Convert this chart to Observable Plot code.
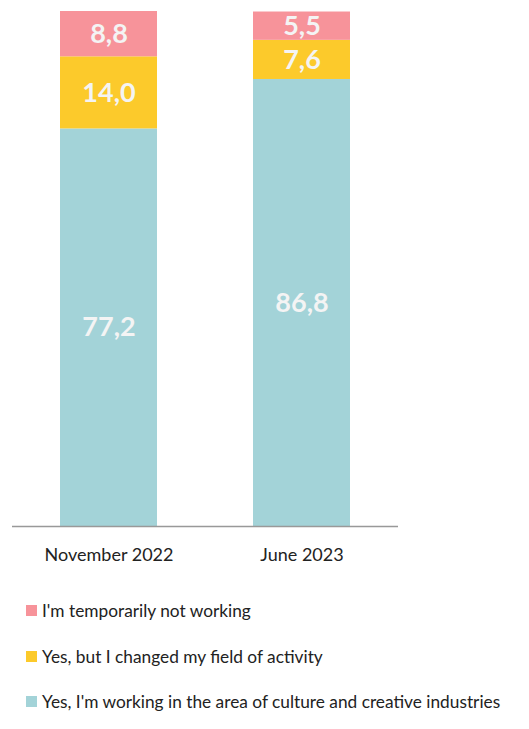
<!DOCTYPE html>
<html>
<head>
<meta charset="utf-8">
<script src="https://cdn.jsdelivr.net/npm/d3@7"></script>
<script src="https://cdn.jsdelivr.net/npm/@observablehq/plot@0.6"></script>
<style>
  body { margin: 0; background: #fff; font-family: Lato, "Open Sans", sans-serif; }
  #chart svg { display: block; }
  #legend { margin-top: 13px; }
  .item { display: flex; align-items: center; height: 45.5px; padding-left: 26px; font-size: 17.3px; color: #222; }
  .sw { width: 11px; height: 11px; margin-right: 5px; flex: none; }
</style>
</head>
<body>
<div id="chart"></div>
<div id="legend"></div>
<script>
const periods = ["November 2022", "June 2023"];
const statuses = [
  "Yes, I'm working in the area of culture and creative industries",
  "Yes, but I changed my field of activity",
  "I'm temporarily not working"
];
const colors = ["#a3d3d8", "#fcca2b", "#f7939a"];
const working = [77.2, 86.8];
const changed = [14.0, 7.6];
const notWorking = [8.8, 5.5];

const series = [working, changed, notWorking];
const data = [];
periods.forEach((p, i) => {
  series.forEach((s, j) => data.push({period: p, status: statuses[j], value: s[i]}));
});

const fmt = v => v.toFixed(1).replace(".", ",");

const chart = Plot.plot({
  width: 529,
  height: 575,
  marginLeft: 12,
  marginRight: 131,
  marginTop: 11,
  marginBottom: 49,
  style: {fontFamily: "Lato, 'Open Sans', sans-serif", background: "#fff"},
  x: {domain: periods, paddingInner: 0.5, paddingOuter: 0.25, label: null, tickSize: 0, tickPadding: 22},
  y: {domain: [0, 100], axis: null},
  color: {domain: statuses, range: colors},
  marks: [
    Plot.barY(data, Plot.stackY({x: "period", y: "value", fill: "status", order: statuses})),
    Plot.text(data, Plot.stackY({x: "period", y: "value", z: "status", order: statuses, text: d => fmt(d.value),
      fill: "#f4f4f4", fontSize: 27, fontWeight: "bold"})),
    Plot.ruleY([0], {stroke: "#999", strokeWidth: 1.5})
  ]
});
const tl = chart.querySelector("g[aria-label='x-axis tick label']");
tl.setAttribute("font-size", "18px");
tl.querySelectorAll("text").forEach(t => t.setAttribute("fill", "#222"));
document.getElementById("chart").appendChild(chart);

const legend = document.getElementById("legend");
[2, 1, 0].forEach(j => {
  const item = document.createElement("div");
  item.className = "item";
  const sw = document.createElement("span");
  sw.className = "sw";
  sw.style.background = colors[j];
  const lbl = document.createElement("span");
  lbl.textContent = statuses[j];
  item.appendChild(sw);
  item.appendChild(lbl);
  legend.appendChild(item);
});
</script>
</body>
</html>
